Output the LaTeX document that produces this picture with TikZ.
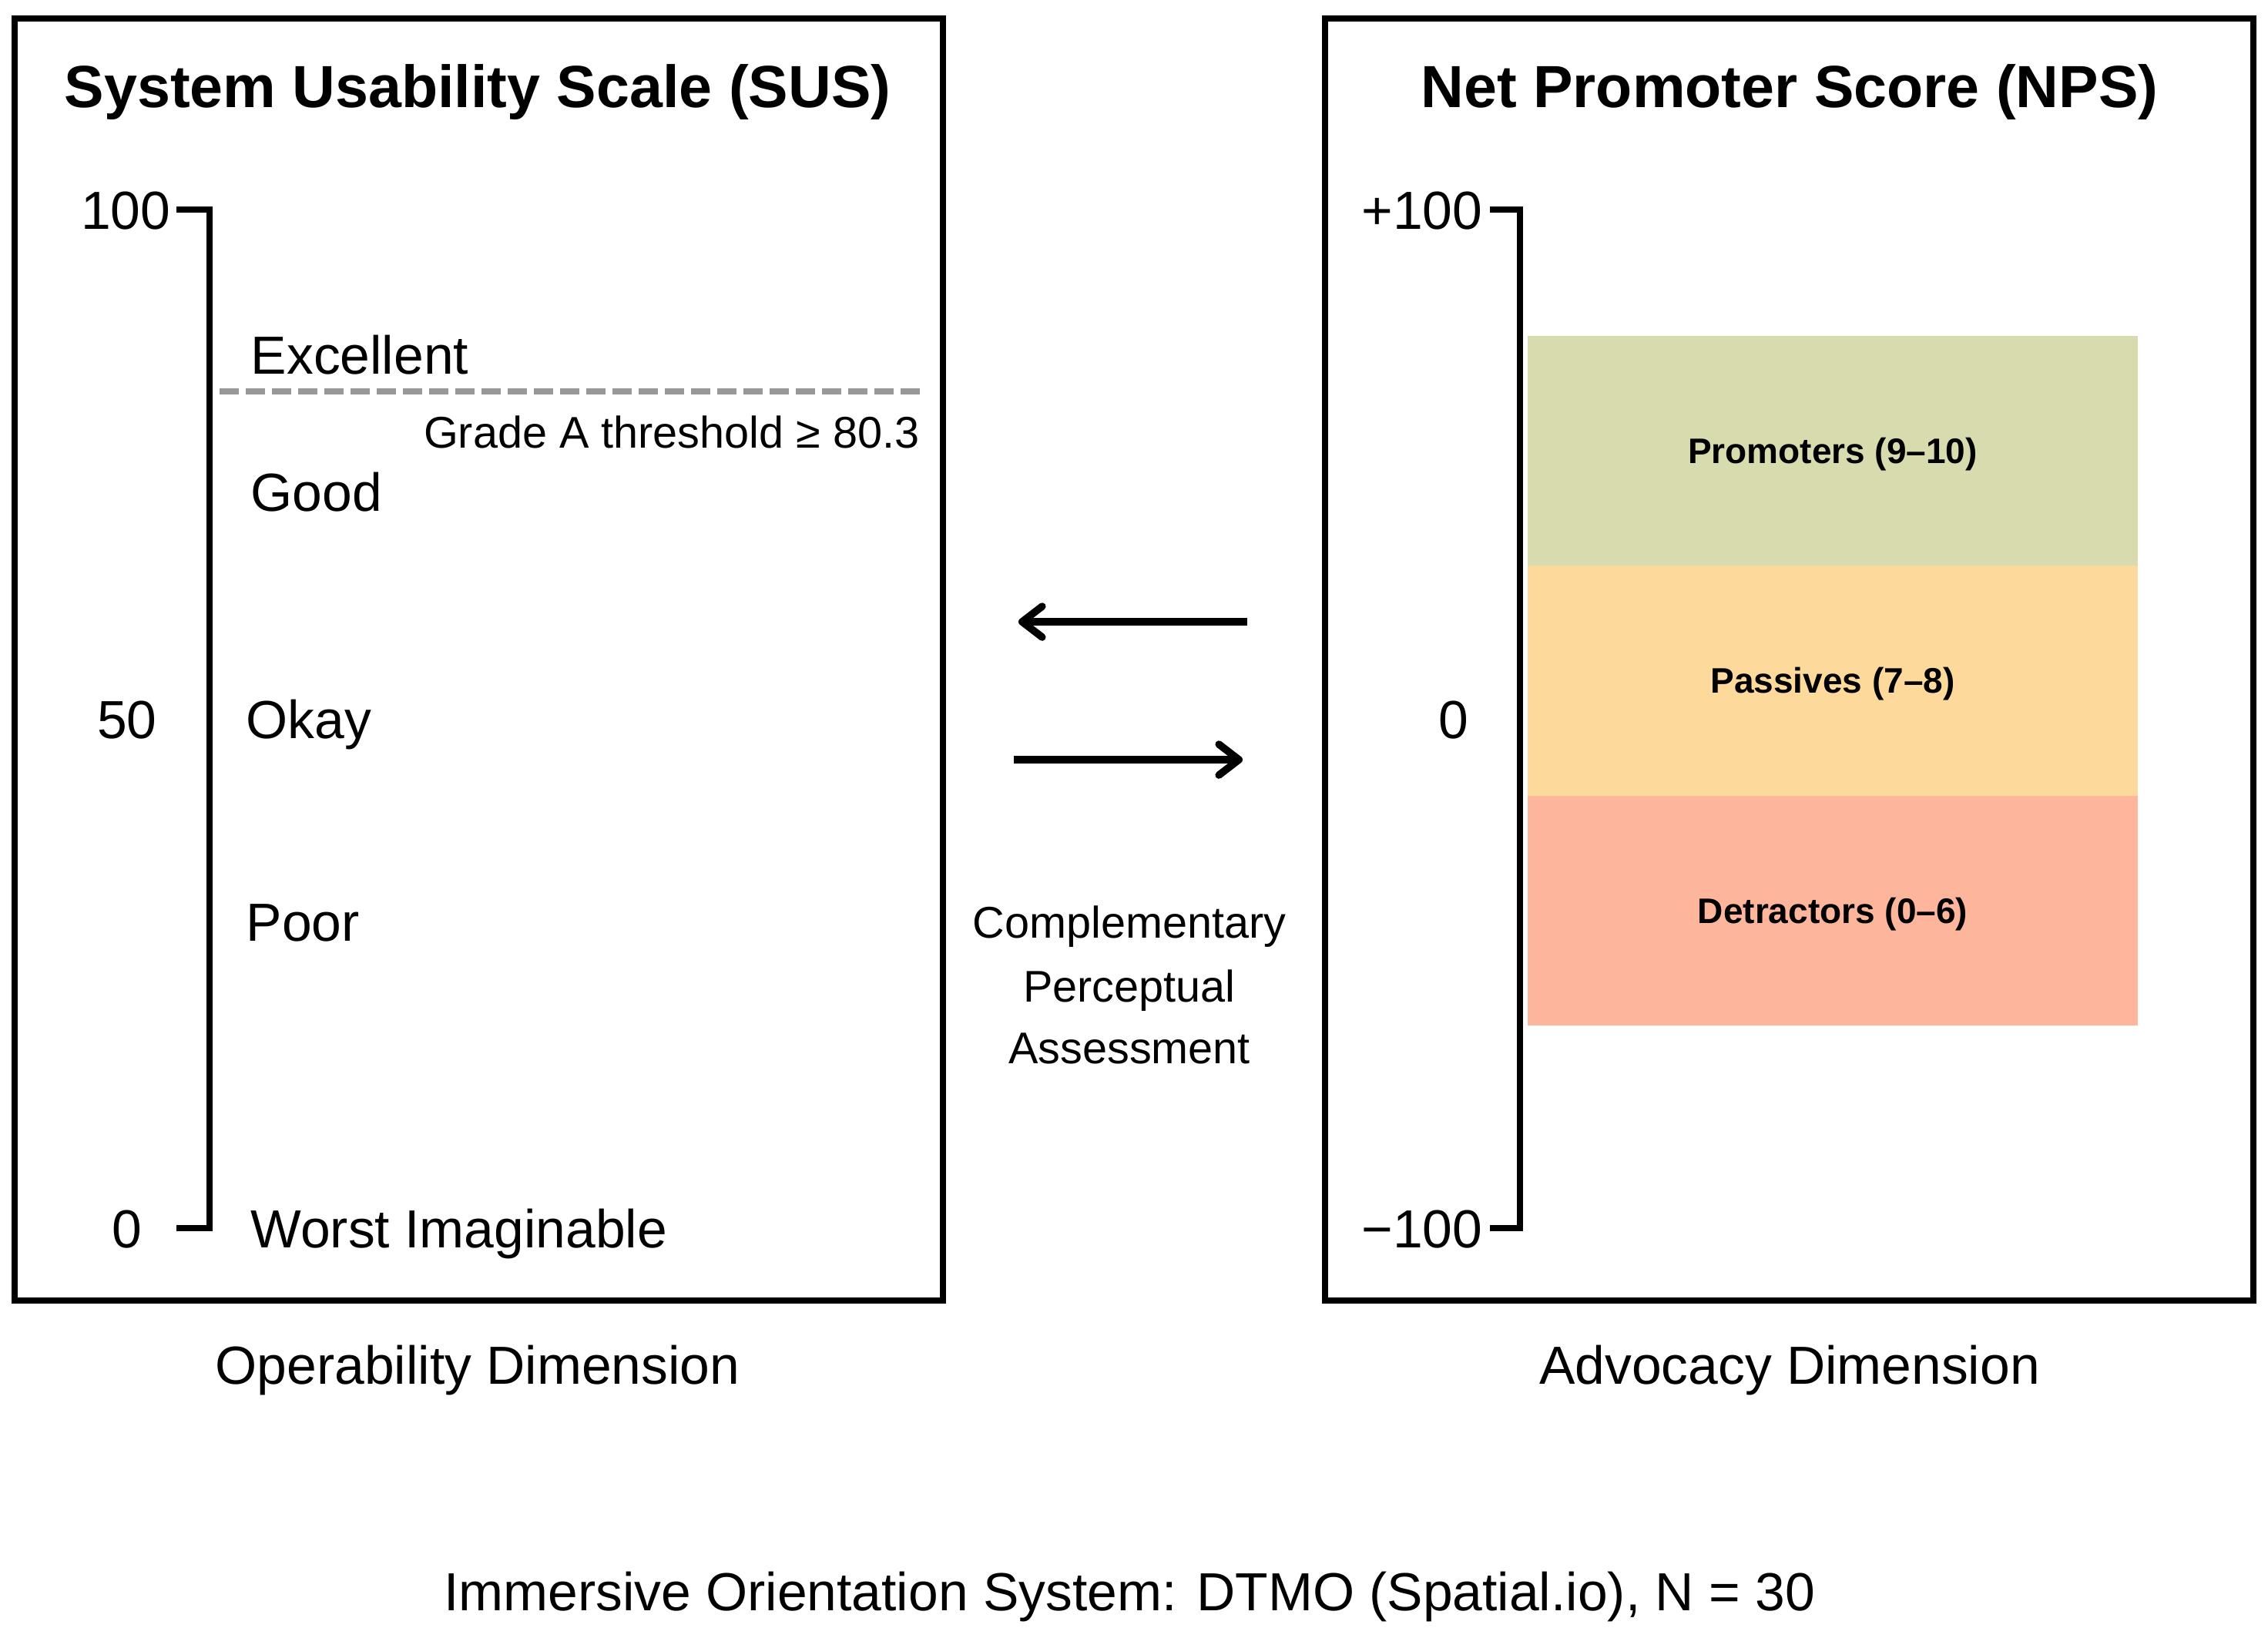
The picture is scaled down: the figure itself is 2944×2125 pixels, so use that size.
\documentclass[tikz,border=0pt]{standalone}
\usepackage{fontspec}
\setmainfont{Liberation Sans}
\usetikzlibrary{arrows.meta}
\definecolor{promo}{RGB}{216,219,173}
\definecolor{passiv}{RGB}{253,217,155}
\definecolor{detrac}{RGB}{253,181,155}
\definecolor{threshgray}{RGB}{152,152,152}
\tikzset{
  frame/.style={draw=black, line width=1.8pt, minimum width=301.25pt, minimum height=416pt, inner sep=0pt},
  axisline/.style={draw=black, line width=1.8pt, line join=miter},
  ttl/.style={font=\bfseries\fontsize{19.3}{23}\selectfont, inner sep=0pt, anchor=base},
  lbl/.style={font=\fontsize{17.4}{21}\selectfont, inner sep=0pt},
  small/.style={font=\fontsize{14.4}{18}\selectfont, inner sep=0pt},
  band/.style={minimum width=198pt, minimum height=74.6pt, inner sep=0pt, text height=8.2pt, text depth=0pt, font=\bfseries\fontsize{11.5}{14}\selectfont},
  thresh/.style={draw=threshgray, line width=1.9pt, dash pattern=on 6.25pt off 2.25pt},
  arrowline/.style={draw=black, line width=2.4pt, -{Straight Barb[round, length=6.5pt, width=10pt]}},
}
\begin{document}
\begin{tikzpicture}[x=0.25pt,y=-0.25pt]
\useasboundingbox (0,0) rectangle (2944,2125);
% frames
\node[frame] (susbox) at (621.5,856) {};
\node[frame] (npsbox) at (2322.5,856) {};
% titles
\node[ttl] (sustitle) at (620,139) {System Usability Scale (SUS)};
\node[ttl] (npstitle) at (2323,139) {Net Promoter Score (NPS)};
% SUS axis
\coordinate (st1) at (229,272);
\coordinate (sa1) at (272,272);
\coordinate (sa2) at (272,1594);
\coordinate (st2) at (229,1594);
\draw[axisline] (st1) -- (sa1) -- (sa2) -- (st2);
\node[lbl, anchor=base east] (s100) at (222,297) {100};
\node[lbl, anchor=base] (s50) at (165,958) {50};
\node[lbl, anchor=base] (s0) at (165,1619) {0};
% SUS grades
\node[lbl, anchor=base west] (exc) at (325,485) {Excellent};
\coordinate (th1) at (285,508);
\coordinate (th2) at (1194,508);
\draw[thresh] (th1) -- (th2);
\node[small, anchor=base east] (grade) at (1194,581) {Grade A threshold ≥ 80.3};
\node[lbl, anchor=base west] (good) at (325,663) {Good};
\node[lbl, anchor=base west] (okay) at (319,958) {Okay};
\node[lbl, anchor=base west] (poor) at (319,1221) {Poor};
\node[lbl, anchor=base west] (worst) at (325,1619) {Worst Imaginable};
% NPS axis
\coordinate (nt1) at (1934,272);
\coordinate (na1) at (1973,272);
\coordinate (na2) at (1973,1594);
\coordinate (nt2) at (1934,1594);
\draw[axisline] (nt1) -- (na1) -- (na2) -- (nt2);
\node[lbl, anchor=base east] (n100) at (1925,297) {+100};
\node[lbl, anchor=base] (n0) at (1887,958) {0};
\node[lbl, anchor=base east] (nm100) at (1925,1619) {−100};
% bands
\node[band, fill=promo] (promoters) at (2379,585.2) {Promoters (9–10)};
\node[band, fill=passiv] (passives) at (2379,883.5) {Passives (7–8)};
\node[band, fill=detrac] (detractors) at (2379,1181.8) {Detractors (0–6)};
% arrows
\coordinate (la1) at (1619,807);
\coordinate (la2) at (1322,807);
\draw[arrowline] (la1) -- (la2);
\coordinate (ra1) at (1316,986);
\coordinate (ra2) at (1613,986);
\draw[arrowline] (ra1) -- (ra2);
\node[small, anchor=base] (comp1) at (1466,1217) {Complementary};
\node[small, anchor=base] (comp2) at (1466,1300) {Perceptual};
\node[small, anchor=base] (comp3) at (1466,1380) {Assessment};
% dimension labels
\node[lbl, anchor=base] (opdim) at (620,1796) {Operability Dimension};
\node[lbl, anchor=base] (advdim) at (2323,1796) {Advocacy Dimension};
\node[lbl, anchor=base] (caption) at (1466,2090) {Immersive Orientation System: DTMO (Spatial.io), N = 30};
\end{tikzpicture}
\end{document}
